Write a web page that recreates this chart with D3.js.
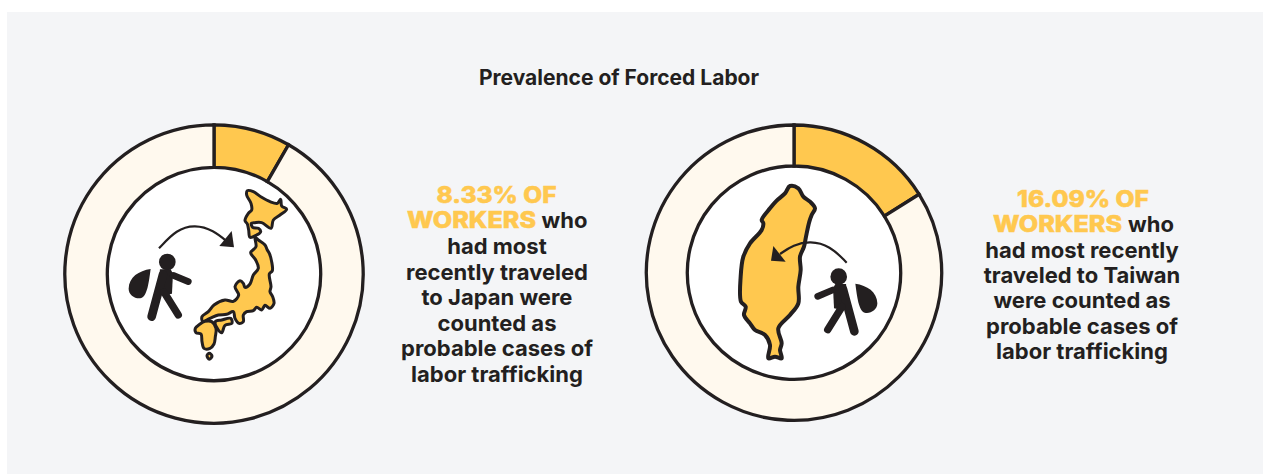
<!DOCTYPE html>
<html>
<head>
<meta charset="utf-8">
<script src="https://cdn.jsdelivr.net/npm/d3@7/dist/d3.min.js"></script>
<style>
html,body{margin:0;padding:0;background:#fff;}
svg{display:block;}
text{font-family:Inter,Lato,sans-serif;}
</style>
</head>
<body>
<div id="chart"></div>
<script>
// Share of workers counted as probable cases, by destination
const destinations = ["Japan", "Taiwan"];
const forcedLaborShare = [8.33, 16.09];
const titleText = "Prevalence of Forced Labor";
const highlightLines = [["8.33% OF", "WORKERS"], ["16.09% OF", "WORKERS"]];
const bodyLines = [
  ["who", "had most", "recently traveled", "to Japan were", "counted as", "probable cases of", "labor trafficking"],
  ["who", "had most recently", "traveled to Taiwan", "were counted as", "probable cases of", "labor trafficking"]
];

const ink = "#231f20", amber = "#ffc84f", cream = "#fff9ee", panel = "#f4f5f7";

// Outlines for the map glyphs, traced at 3 units per pixel
const japanIslands = [
  [[172,32],[190,35],[215,52],[240,65],[262,70],[272,58],[275,78],[290,88],[270,105],[250,120],[243,145],[215,128],[195,128],[184,130],[188,142],[205,145],[212,155],[198,166],[180,172],[176,150],[172,132],[165,122],[175,100],[185,90],[183,70],[170,45]],
  [[195,172],[205,180],[225,195],[232,210],[238,220],[245,245],[247,272],[238,282],[243,320],[240,335],[248,350],[252,370],[240,385],[225,376],[215,390],[200,382],[190,392],[170,395],[160,405],[160,425],[147,430],[135,415],[130,395],[110,403],[85,405],[60,415],[38,424],[36,410],[55,395],[72,375],[105,360],[130,364],[146,345],[135,320],[150,302],[160,310],[165,322],[180,312],[190,285],[205,265],[197,240],[182,218],[198,200]],
  [[16,445],[30,432],[45,424],[65,425],[78,445],[76,470],[72,492],[60,505],[42,505],[36,485],[33,462],[18,458]],
  [[76,425],[95,420],[122,415],[126,430],[105,436],[95,458],[80,442]],
  [[51,527],[58,520],[66,528],[58,538]]
];
const taiwanIsland = [
  [[165,40],[180,18],[205,25],[220,50],[240,65],[255,85],[245,105],[238,125],[228,170],[222,200],[210,230],[212,270],[205,320],[205,370],[180,405],[145,445],[155,490],[150,510],[155,535],[135,530],[115,535],[120,495],[105,465],[75,450],[60,430],[42,405],[47,380],[33,365],[32,290],[40,230],[60,190],[95,150],[100,130],[95,120],[120,85],[140,62]]
];

// Traveller glyph, origin at the centre of the head, 3 units per pixel
const travellerLimbs = [
  {pts:[[-13,38],[-47,164]], w:26},
  {pts:[[-10,90],[33,159]], w:22},
  {pts:[[18,40],[63,59]], w:20}
];
const travellerTorso = [[-22,22],[10,22],[17,35],[14,95],[-10,100],[-30,100]];
const travellerBag = "M-50,21 C-85,26 -115,45 -116,80 C-116,100 -95,112 -78,108 C-60,102 -55,60 -50,21 Z";

const arrows = [
  {arc:[[117,85],[170,28],[225,14],[280,30],[325,68]], head:[[335,33],[298,78],[342,82]]},
  {arc:[[350,248],[300,197],[240,183],[190,195],[150,222]], head:[[130,198],[123,242],[167,245]]}
];

const width = 1263, height = 474;
const svg = d3.select("#chart").append("svg").attr("width", width).attr("height", height);

svg.append("rect").attr("x", 7).attr("y", 12).attr("width", width - 7).attr("height", height - 12).attr("fill", panel);

svg.append("text").attr("x", 619).attr("y", 85).attr("text-anchor", "middle")
  .attr("font-size", 21).attr("font-weight", 700).attr("fill", ink).text(titleText);

const panels = [
  {cx:214, cy:274, outer:149.2, inner:106.7, textX:497, leadX:496.5, firstBase:202.7, step:25.6, mapAt:[190,180], travAt:[167.3,262], flip:1, arrowAt:[120,220], land:japanIslands, sw:3,
   spans:[120, 129], workersEnd:536, whoStart:541.5},
  {cx:794, cy:272.7, outer:147.7, inner:106.7, textX:1082, leadX:1083, firstBase:206.8, step:25.4, mapAt:[730,180], travAt:[838.7,276.7], flip:-1, arrowAt:[730,180], land:taiwanIsland, sw:4,
   spans:[132, 129], workersEnd:1122, whoStart:1128}
];

const pie = d3.pie().sort(null).value(d => d);
const outlineLine = d3.line().curve(d3.curveCatmullRomClosed.alpha(0.5));
const arcLine = d3.line().curve(d3.curveBasis);

destinations.forEach((name, i) => {
  const p = panels[i];
  const g = svg.append("g").attr("class", "donut-" + name.toLowerCase());
  const ring = g.append("g").attr("transform", `translate(${p.cx},${p.cy})`);
  const arc = d3.arc().innerRadius(p.inner).outerRadius(p.outer);

  ring.append("circle").attr("r", p.inner).attr("fill", "#fff");
  ring.selectAll("path.slice")
    .data(pie([forcedLaborShare[i], 100 - forcedLaborShare[i]]))
    .join("path").attr("class", "slice")
    .attr("d", arc)
    .attr("fill", (d, j) => j === 0 ? amber : cream)
    .attr("stroke", ink).attr("stroke-width", 3.3).attr("stroke-linejoin", "miter");

  // Map of the destination
  g.append("g").attr("transform", `translate(${p.mapAt[0]},${p.mapAt[1]}) scale(${1/3})`)
    .selectAll("path").data(p.land).join("path")
    .attr("d", outlineLine)
    .attr("fill", amber).attr("stroke", ink).attr("stroke-width", p.sw * 3).attr("stroke-linejoin", "round");

  // Travel arrow
  const arrow = g.append("g").attr("transform", `translate(${p.arrowAt[0]},${p.arrowAt[1]}) scale(${1/3})`);
  arrow.append("path").attr("d", arcLine(arrows[i].arc)).attr("fill", "none").attr("stroke", ink).attr("stroke-width", 6.5);
  arrow.append("path").attr("d", d3.line()(arrows[i].head) + "Z").attr("fill", ink);

  // Traveller with a sack
  const t = g.append("g").attr("transform", `translate(${p.travAt[0]},${p.travAt[1]}) scale(${p.flip/3},${1/3})`);
  t.append("circle").attr("r", 25).attr("fill", ink);
  t.append("path").attr("d", d3.line()(travellerTorso) + "Z").attr("fill", ink);
  t.selectAll("path.limb").data(travellerLimbs).join("path").attr("class", "limb")
    .attr("d", d => d3.line()(d.pts))
    .attr("fill", "none").attr("stroke", ink).attr("stroke-linecap", "round")
    .attr("stroke-width", d => d.w);
  t.append("path").attr("d", travellerBag).attr("fill", ink);

  // Caption: the amber lead-in is set wide and heavy
  const lead = sel => sel.attr("fill", amber).attr("stroke", amber).attr("stroke-width", 0.5)
    .attr("font-size", 22.5).attr("font-weight", 800).attr("lengthAdjust", "spacingAndGlyphs");
  g.append("text").attr("x", p.leadX).attr("y", p.firstBase).attr("text-anchor", "middle")
    .call(lead).attr("textLength", p.spans[0]).text(highlightLines[i][0]);
  g.append("text").attr("x", p.workersEnd).attr("y", p.firstBase + p.step).attr("text-anchor", "end")
    .call(lead).attr("textLength", p.spans[1]).text(highlightLines[i][1]);
  const bodyAttrs = sel => sel.attr("fill", ink).attr("font-size", 22).attr("font-weight", 700);
  g.append("text").attr("x", p.whoStart).attr("y", p.firstBase + p.step).call(bodyAttrs).text(bodyLines[i][0]);
  bodyLines[i].slice(1).forEach((line, k) => {
    g.append("text").attr("x", p.textX).attr("y", p.firstBase + p.step * (k + 2)).attr("text-anchor", "middle")
      .call(bodyAttrs).text(line);
  });
});
</script>
</body>
</html>
